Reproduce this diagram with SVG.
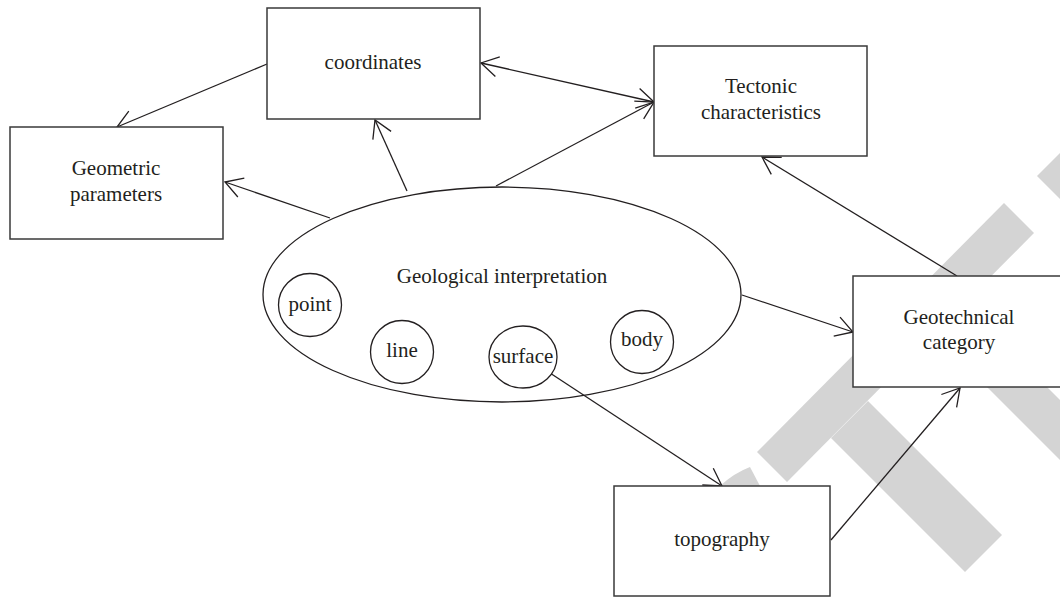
<svg xmlns="http://www.w3.org/2000/svg" width="1060" height="597" viewBox="0 0 1060 597">
<style>
  .wm { fill: #d4d4d4; stroke: none; }
  .box { fill: #ffffff; stroke: #3a3a3a; stroke-width: 1.5; }
  .shape { fill: #ffffff; stroke: #231f20; stroke-width: 1.3; }
  .conn { fill: none; stroke: #231f20; stroke-width: 1.3; marker-end: url(#arr); }
  .lbl { font-family: "Liberation Serif", "Times New Roman", serif; font-size: 21px; fill: #231f20; text-anchor: middle; }
</style>
<defs>
  <marker id="arr" viewBox="-20 -12 22 24" refX="0" refY="0" markerWidth="22" markerHeight="24" markerUnits="userSpaceOnUse" orient="auto-start-reverse">
    <path d="M-17,-10 L0,0 L-17,10" fill="none" stroke="#231f20" stroke-width="1.3"/>
  </marker>
</defs>
<rect width="1060" height="597" fill="#ffffff"/>
<g id="watermark">
  <polygon class="wm" points="757,452 787,482 1034,233 1004,203"/>
  <polygon class="wm" points="831,438 868,401 1002,535 965,572"/>
  <polygon class="wm" points="1037,176 1080,133 1200,253 1157,296"/>
  <polygon class="wm" points="920,320 950,290 1260,600 1200,600"/>
  <path class="wm" d="M720,486 Q734,473 750,467 L760,486 Z"/>
</g>
<g id="geological-interpretation">
  <ellipse class="shape" cx="502" cy="294.5" rx="239" ry="107.5" style="fill:none"/>
  <text class="lbl" x="502" y="283">Geological interpretation</text>
</g>
<g id="connectors">
  <line class="conn" x1="267" y1="64" x2="117" y2="127"/>
  <line class="conn" x1="330" y1="218" x2="225" y2="182"/>
  <line class="conn" x1="407" y1="191" x2="375" y2="120"/>
  <line class="conn" x1="481" y1="63" x2="654" y2="102" style="marker-start:url(#arr)"/>
  <line class="conn" x1="496" y1="186" x2="654" y2="102"/>
  <line class="conn" x1="957" y1="276" x2="762" y2="157"/>
  <line class="conn" x1="742" y1="295" x2="853" y2="332"/>
  <line class="conn" x1="550" y1="373" x2="722" y2="486"/>
  <line class="conn" x1="831" y1="540" x2="960" y2="388"/>
</g>
<g id="coordinates">
  <rect class="box" x="267" y="8" width="213" height="111"/>
  <text class="lbl" x="373" y="69">coordinates</text>
</g>
<g id="geometric-parameters">
  <rect class="box" x="10" y="127" width="213" height="112"/>
  <text class="lbl" x="116" y="175">Geometric</text>
  <text class="lbl" x="116" y="201">parameters</text>
</g>
<g id="tectonic-characteristics">
  <rect class="box" x="654" y="46" width="213" height="110"/>
  <text class="lbl" x="761" y="93">Tectonic</text>
  <text class="lbl" x="761" y="119">characteristics</text>
</g>
<g id="geotechnical-category">
  <rect class="box" x="853" y="276" width="213" height="111"/>
  <text class="lbl" x="959" y="324">Geotechnical</text>
  <text class="lbl" x="959" y="349">category</text>
</g>
<g id="topography">
  <rect class="box" x="614" y="486" width="216" height="110"/>
  <text class="lbl" x="722" y="546">topography</text>
</g>
<g id="point">
  <circle class="shape" cx="310" cy="305" r="31.5"/>
  <text class="lbl" x="310" y="311">point</text>
</g>
<g id="line">
  <circle class="shape" cx="402" cy="352" r="31.5"/>
  <text class="lbl" x="402" y="357">line</text>
</g>
<g id="surface">
  <ellipse class="shape" cx="523" cy="357" rx="34" ry="31"/>
  <text class="lbl" x="523" y="363">surface</text>
</g>
<g id="body">
  <circle class="shape" cx="642" cy="342" r="31.5"/>
  <text class="lbl" x="642" y="346">body</text>
</g>
</svg>
